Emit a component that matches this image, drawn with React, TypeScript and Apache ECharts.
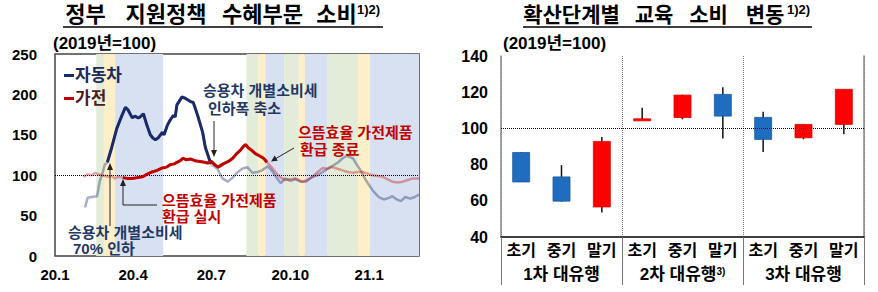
import React, { useEffect, useRef } from 'react';
import * as echarts from 'echarts';

const FF = "'Liberation Sans', 'Noto Sans CJK KR', sans-serif";
const NAVY = '#1b2a6b';
const RED = '#c00000';

// ---------- titles ----------
const leftTitleWords = ['정부', '지원정책', '수혜부문', '소비'];
const rightTitleWords = ['확산단계별', '교육', '소비', '변동'];
const titleNote = '1)2)';

// ---------- left chart data ----------
const ORIGIN = '2020-01-01';
const X_END = '2021-02-28';
const quarterTicks = ['2020-01-01', '2020-04-01', '2020-07-01', '2020-10-01', '2021-01-01'];
const quarterLabels = ['20.1', '20.4', '20.7', '20.10', '21.1'];

const carDates = [
  '2020-02-05', '2020-02-08', '2020-02-13', '2020-02-19', '2020-02-22', '2020-02-26', '2020-02-28',
  '2020-03-02', '2020-03-07', '2020-03-13', '2020-03-19', '2020-03-23', '2020-03-26', '2020-03-31',
  '2020-04-03', '2020-04-07', '2020-04-09', '2020-04-13', '2020-04-17', '2020-04-21', '2020-04-24',
  '2020-04-27', '2020-04-30', '2020-05-05', '2020-05-07', '2020-05-11', '2020-05-14', '2020-05-18',
  '2020-05-20', '2020-05-22', '2020-05-28', '2020-06-01', '2020-06-04', '2020-06-07', '2020-06-10',
  '2020-06-12', '2020-06-16', '2020-06-21', '2020-06-24', '2020-06-29', '2020-07-01', '2020-07-08',
  '2020-07-14', '2020-07-20', '2020-07-26', '2020-07-31', '2020-08-06', '2020-08-12', '2020-08-18',
  '2020-08-24', '2020-08-29', '2020-09-05', '2020-09-10', '2020-09-15', '2020-09-20', '2020-09-25',
  '2020-10-01', '2020-10-07', '2020-10-13', '2020-10-19', '2020-10-27', '2020-11-02', '2020-11-08',
  '2020-11-15', '2020-11-20', '2020-11-26', '2020-12-01', '2020-12-06', '2020-12-13', '2020-12-17',
  '2020-12-22', '2020-12-28', '2021-01-02', '2021-01-06', '2021-01-12', '2021-01-18', '2021-01-24',
  '2021-01-28', '2021-02-02', '2021-02-07', '2021-02-12', '2021-02-18', '2021-02-23', '2021-02-28',
];
const carValues = [
  60, 72, 73, 74, 92, 105, 113,
  116, 134, 158, 174, 184, 181, 171,
  173, 171, 172, 176, 162, 150, 146,
  144, 146, 153, 150, 162, 168, 174,
  172, 187, 197, 195, 193, 191, 190,
  184, 171, 153, 135, 119, 114, 108,
  96, 92, 97, 103, 108, 110, 103,
  104, 106, 111, 105, 97, 90, 96,
  93, 95, 92, 92, 98, 100, 104,
  109, 112, 116, 121, 124, 121, 114,
  106, 94, 86, 80, 73, 70, 72,
  74, 70, 68, 73, 71, 73, 76,
];
const carHighlight = ['2020-03-02', '2020-07-01'];

const applianceDates = [
  '2020-02-03', '2020-02-08', '2020-02-13', '2020-02-17', '2020-02-21', '2020-02-25', '2020-03-03',
  '2020-03-07', '2020-03-11', '2020-03-15', '2020-03-20', '2020-03-26', '2020-03-31', '2020-04-06',
  '2020-04-12', '2020-04-17', '2020-04-23', '2020-04-29', '2020-05-05', '2020-05-10', '2020-05-14',
  '2020-05-19', '2020-05-22', '2020-05-26', '2020-05-29', '2020-06-02', '2020-06-07', '2020-06-12',
  '2020-06-18', '2020-06-23', '2020-06-27', '2020-07-01', '2020-07-05', '2020-07-09', '2020-07-15',
  '2020-07-21', '2020-07-26', '2020-07-30', '2020-08-04', '2020-08-07', '2020-08-10', '2020-08-13',
  '2020-08-17', '2020-08-21', '2020-08-26', '2020-08-31', '2020-09-04', '2020-09-10', '2020-09-15',
  '2020-09-20', '2020-09-25', '2020-10-01', '2020-10-07', '2020-10-15', '2020-10-21', '2020-10-27',
  '2020-11-02', '2020-11-08', '2020-11-13', '2020-11-19', '2020-11-25', '2020-12-01', '2020-12-07',
  '2020-12-13', '2020-12-18', '2020-12-24', '2020-12-30', '2021-01-05', '2021-01-11', '2021-01-17',
  '2021-01-22', '2021-01-28', '2021-02-03', '2021-02-09', '2021-02-15', '2021-02-21', '2021-02-28',
];
const applianceValues = [
  98, 101, 100, 103, 101, 100, 98,
  99, 96, 98, 97, 96, 96, 97,
  98, 101, 104, 106, 109, 110, 113,
  114, 116, 118, 121, 119, 120, 118,
  117, 116, 115, 117, 113, 110, 114,
  117, 121, 126, 131, 135, 138, 134,
  131, 127, 124, 121, 116, 109, 102,
  97, 94, 95, 96, 92, 94, 98,
  104, 109, 108, 110, 108, 106, 104,
  103, 104, 104, 102, 100, 99, 98,
  95, 92, 91, 92, 94, 96, 96,
];
const applianceHighlight = ['2020-03-20', '2020-09-04'];

// distancing-stage background bands
const bandStarts = [
  '2020-02-18', '2020-02-27', '2020-03-11', '2020-08-11', '2020-08-25', '2020-09-02',
  '2020-09-24', '2020-10-11', '2020-10-18', '2020-11-13', '2020-12-19', '2021-01-02',
];
const bandEnds = [
  '2020-02-27', '2020-03-11', '2020-05-06', '2020-08-25', '2020-09-02', '2020-09-24',
  '2020-10-11', '2020-10-18', '2020-11-13', '2020-12-19', '2021-01-02', '2021-02-28',
];
const bandKinds = ['g', 'y', 'b', 'g', 'y', 'b', 'g', 'y', 'b', 'g', 'y', 'b'];

// ---------- right chart data ----------
const stageLabels = ['초기', '중기', '말기'];
const waveLabels = ['1차 대유행', '2차 대유행', '3차 대유행'];
const waveNotes = ['', '3)', ''];
const candleOpen = [86.7, 73.2, 56.6, 104.5, 106.0, 118.8, 106.1, 94.8, 102.2];
const candleClose = [70.4, 59.8, 92.8, 105.3, 118.4, 106.8, 93.9, 102.2, 121.6];
const candleLow = [70.4, 59.5, 53.5, 104.3, 105.0, 94.4, 87.0, 94.0, 96.7];
const candleHigh = [87.0, 79.7, 95.3, 111.4, 118.6, 122.7, 109.2, 102.2, 121.6];

const dayOf = (s: string) => (Date.parse(s) - Date.parse(ORIGIN)) / 86400000;

export default function App() {
  const ref = useRef<HTMLDivElement>(null);
  useEffect(() => {
    document.body.style.margin = '0';
    const chart = echarts.init(ref.current!, null, { renderer: 'svg' });

    const bandColor: Record<string, string> = { g: '#e2ecd8', y: '#fdf0c8', b: '#d8e1f2' };

    const carData = carDates.map((d, i) => [dayOf(d), carValues[i]]);
    const appData = applianceDates.map((d, i) => [dayOf(d), applianceValues[i]]);
    const within = (data: number[][], r: string[]) =>
      data.filter((p) => p[0] >= dayOf(r[0]) && p[0] <= dayOf(r[1]));

    const stageCats: string[] = [];
    waveLabels.forEach(() => stageLabels.forEach((s) => stageCats.push(s)));
    const waveCats = waveLabels.map((w, i) => (waveNotes[i] ? `${w}{s|${waveNotes[i]}}` : w));
    const candleData = candleOpen.map((o, i) => [i, o, candleClose[i], candleLow[i], candleHigh[i]]);

    const boldLabel = { fontFamily: FF, fontWeight: 'bold', fontSize: 15, color: '#000' };

    const txt = (x: number, y: number, text: string, fill: string, extra: any = {}) => ({
      type: 'text',
      x,
      y,
      z: 100,
      style: {
        text,
        fill,
        fontFamily: FF,
        fontWeight: 'bold',
        fontSize: 15,
        verticalAlign: 'middle',
        align: 'left',
        ...extra,
      },
    });
    const ln = (x1: number, y1: number, x2: number, y2: number, w = 1, c = '#222') => ({
      type: 'line',
      z: 100,
      shape: { x1, y1, x2, y2 },
      style: { stroke: c, lineWidth: w },
    });
    const head = (pts: number[][]) => ({
      type: 'polygon',
      z: 100,
      shape: { points: pts },
      style: { fill: '#222' },
    });

    const leftWordX = [85.5, 166, 262.5, 336.5];
    const rightWordX = [571.5, 654, 708.5, 765];
    const titleEls: any[] = [];
    leftTitleWords.forEach((w, i) =>
      titleEls.push(txt(leftWordX[i], 14, w, '#000', { fontSize: 22, align: 'center' })),
    );
    titleEls.push(txt(357, 9, titleNote, '#000', { fontSize: 13 }));
    rightTitleWords.forEach((w, i) =>
      titleEls.push(txt(rightWordX[i], 14, w, '#000', { fontSize: 21, align: 'center' })),
    );
    titleEls.push(txt(787, 9, titleNote, '#000', { fontSize: 13 }));

    const option: any = {
      animation: false,
      grid: [
        { left: 55, top: 54, width: 364, height: 202, show: true, borderColor: '#444', borderWidth: 1.5, backgroundColor: 'transparent' },
        { left: 501, top: 56, width: 363, height: 181 },
      ],
      legend: {
        left: 59,
        top: 62,
        orient: 'vertical',
        icon: 'rect',
        itemWidth: 10,
        itemHeight: 3,
        itemGap: 6,
        selectedMode: false,
        textStyle: { fontFamily: FF, fontWeight: 'bold', fontSize: 17, padding: [0, 0, 0, -4] },
        data: [
          { name: '자동차', textStyle: { color: '#1f2a5a' } },
          { name: '가전', textStyle: { color: '#4a1c1c' } },
        ],
      },
      xAxis: [
        {
          type: 'value',
          gridIndex: 0,
          min: 0,
          max: dayOf(X_END),
          splitLine: { show: false },
          axisLine: { show: false },
          axisTick: { show: false },
          axisLabel: {
            ...boldLabel,
            margin: 11,
            customValues: quarterTicks.map(dayOf),
            formatter: (v: number) => {
              const i = quarterTicks.map(dayOf).indexOf(v);
              return i >= 0 ? quarterLabels[i] : '';
            },
          },
        },
        {
          type: 'category',
          gridIndex: 1,
          data: stageCats,
          axisLine: { show: true, lineStyle: { color: '#000', width: 1.5 } },
          axisTick: { show: false },
          splitLine: { show: false },
          axisLabel: { ...boldLabel, fontSize: 16, interval: 0, margin: 5 },
        },
        {
          type: 'category',
          gridIndex: 1,
          position: 'bottom',
          data: waveCats,
          axisLine: { show: false },
          axisTick: { show: true, length: 48, lineStyle: { color: '#777', width: 1 } },
          splitLine: { show: true, lineStyle: { type: 'dotted', color: '#777', width: 1 } },
          axisLabel: {
            ...boldLabel,
            fontSize: 17,
            interval: 0,
            margin: 29,
            rich: { s: { fontSize: 10, fontWeight: 'bold', fontFamily: FF, color: '#000', verticalAlign: 'top', lineHeight: 10, padding: [0, 0, 8, 0] } },
          },
        },
      ],
      yAxis: [
        {
          type: 'value',
          gridIndex: 0,
          min: 0,
          max: 250,
          interval: 50,
          splitLine: { show: false },
          axisLine: { show: false },
          axisTick: { show: false },
          axisLabel: { ...boldLabel, margin: 18 },
        },
        {
          type: 'value',
          gridIndex: 1,
          min: 40,
          max: 140,
          interval: 20,
          splitLine: { show: false },
          axisLine: { show: true, lineStyle: { color: '#888', width: 1.5 } },
          axisTick: { show: false },
          axisLabel: { ...boldLabel, fontSize: 16, margin: 13 },
        },
        {
          type: 'value',
          gridIndex: 1,
          position: 'right',
          min: 40,
          max: 140,
          interval: 20,
          splitLine: { show: false },
          axisLine: { show: true, lineStyle: { color: '#888', width: 1.5 } },
          axisTick: { show: false },
          axisLabel: { show: false },
        },
      ],
      series: [
        {
          type: 'line',
          name: 'car-all',
          xAxisIndex: 0,
          yAxisIndex: 0,
          data: carData,
          showSymbol: false,
          z: 2,
          lineStyle: { color: NAVY, width: 2.5, opacity: 0.38 },
          markArea: {
            silent: true,
            data: bandStarts.map((s, i) => [
              { xAxis: dayOf(s), itemStyle: { color: bandColor[bandKinds[i]], opacity: 1 } },
              { xAxis: dayOf(bandEnds[i]) },
            ]),
          },
          markLine: {
            silent: true,
            symbol: 'none',
            label: { show: false },
            lineStyle: { type: 'dotted', color: '#000', width: 1 },
            data: [{ yAxis: 100 }],
          },
        },
        {
          type: 'line',
          name: 'app-all',
          xAxisIndex: 0,
          yAxisIndex: 0,
          data: appData,
          showSymbol: false,
          z: 2,
          lineStyle: { color: RED, width: 2.5, opacity: 0.35 },
        },
        {
          type: 'line',
          name: '자동차',
          xAxisIndex: 0,
          yAxisIndex: 0,
          data: within(carData, carHighlight),
          showSymbol: false,
          color: NAVY,
          z: 4,
          lineStyle: { color: NAVY, width: 3 },
        },
        {
          type: 'line',
          name: '가전',
          xAxisIndex: 0,
          yAxisIndex: 0,
          data: within(appData, applianceHighlight),
          showSymbol: false,
          color: RED,
          z: 5,
          lineStyle: { color: RED, width: 3 },
        },
        {
          type: 'custom',
          name: 'edu',
          xAxisIndex: 1,
          yAxisIndex: 1,
          data: candleData,
          encode: { x: 0, y: [1, 2, 3, 4] },
          renderItem: (params: any, api: any) => {
            const idx = api.value(0);
            const o = api.value(1);
            const c = api.value(2);
            const lo = api.value(3);
            const hi = api.value(4);
            const pO = api.coord([idx, o]);
            const pC = api.coord([idx, c]);
            const pL = api.coord([idx, lo]);
            const pH = api.coord([idx, hi]);
            const up = c >= o;
            const fill = up ? '#ff0000' : '#1f6dbf';
            const stroke = up ? '#e00000' : '#1a5c9e';
            const w = 17;
            const top = Math.min(pO[1], pC[1]);
            const h = Math.max(Math.abs(pO[1] - pC[1]), 2);
            return {
              type: 'group',
              children: [
                {
                  type: 'line',
                  shape: { x1: pH[0], y1: pH[1], x2: pL[0], y2: pL[1] },
                  style: { stroke: '#111', lineWidth: 1.5 },
                },
                {
                  type: 'rect',
                  shape: { x: pO[0] - w / 2, y: top, width: w, height: h },
                  style: { fill, stroke, lineWidth: 0.8 },
                },
              ],
            };
          },
          markLine: {
            silent: true,
            symbol: 'none',
            label: { show: false },
            lineStyle: { type: 'dotted', color: '#000', width: 1 },
            data: [{ yAxis: 100 }],
          },
        },
      ],
      graphic: [
        ...titleEls,
        ln(63, 27, 383, 27, 1.5, '#000'),
        ln(523, 27, 812, 27, 1.5, '#000'),
        txt(53, 43, '(2019년=100)', '#000', { fontSize: 17 }),
        txt(503, 43, '(2019년=100)', '#000', { fontSize: 17 }),
        // annotations
        txt(203, 90, '승용차 개별소비세', '#1f3864'),
        txt(208, 108, '인하폭 축소', '#1f3864'),
        ln(214, 121, 214, 152),
        head([[211, 150], [217, 150], [214, 157]]),
        txt(298, 132, '으뜸효율 가전제품', RED),
        txt(300, 149, '환급 종료', RED),
        ln(294, 148, 275, 159),
        head([[277.7, 160.7], [274.7, 155.5], [271, 161.5]]),
        txt(162, 200, '으뜸효율 가전제품', RED),
        txt(162, 216, '환급 실시', RED),
        {
          type: 'polyline',
          z: 100,
          shape: { points: [[157, 205], [123, 205], [123, 184]] },
          style: { stroke: '#222', lineWidth: 1, fill: 'none' },
        },
        head([[120, 186], [126, 186], [123, 179]]),
        txt(68, 232, '승용차 개별소비세', '#1f3864'),
        txt(73, 248, '70% 인하', '#1f3864'),
        ln(110, 226, 110, 168),
        head([[107, 170], [113, 170], [110, 163]]),
      ],
    };

    chart.setOption(option);
    return () => chart.dispose();
  }, []);
  return <div ref={ref} style={{ width: 878, height: 292 }} />;
}
